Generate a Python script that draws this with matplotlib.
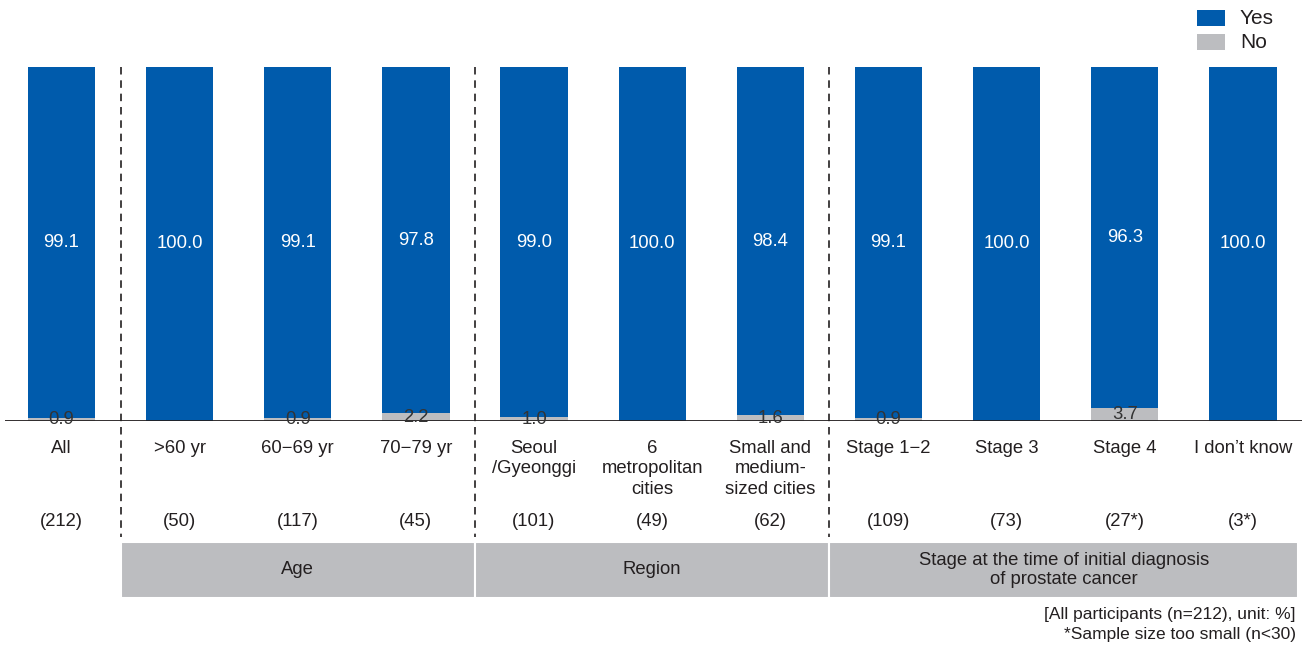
import matplotlib
matplotlib.use("Agg")
import matplotlib.pyplot as plt
from matplotlib.patches import Rectangle
from matplotlib.lines import Line2D
from matplotlib.transforms import blended_transform_factory

plt.rcParams['font.family'] = ['Liberation Sans', 'DejaVu Sans']

categories = ["All", ">60 yr", "60\u221269 yr", "70\u221279 yr", "Seoul\n/Gyeonggi",
              "6\nmetropolitan\ncities", "Small and\nmedium-\nsized cities",
              "Stage 1\u22122", "Stage 3", "Stage 4", "I don\u02bct know"]
counts = ["(212)", "(50)", "(117)", "(45)", "(101)", "(49)", "(62)",
          "(109)", "(73)", "(27*)", "(3*)"]
yes = [99.1, 100.0, 99.1, 97.8, 99.0, 100.0, 98.4, 99.1, 100.0, 96.3, 100.0]
no = [0.9, 0.0, 0.9, 2.2, 1.0, 0.0, 1.6, 0.9, 0.0, 3.7, 0.0]
groups = [("Age", 0.5, 3.5), ("Region", 3.5, 6.5),
          ("Stage at the time of initial diagnosis\nof prostate cancer", 6.5, 10.47)]
separators = [0.5, 3.5, 6.5]

BLUE = "#005BAC"
GREY = "#BCBDC0"
TXT = "#231F20"
FS = 13.3

W, H = 1305, 645
fig = plt.figure(figsize=(W / 100, H / 100), dpi=100)

def fy(py):
    return 1 - py / H

ax = fig.add_axes([5 / W, fy(421), (1302 - 5) / W, fy(67) - fy(421)])
x = list(range(len(categories)))
ax.bar(x, no, width=0.57, color=GREY)
ax.bar(x, yes, width=0.57, bottom=no, color=BLUE)
ax.set_xlim(-0.478, 10.5)
ax.set_ylim(0, 100)
ax.axis('off')
ax.axhline(0, color=TXT, lw=1.3, zorder=5)

for i in x:
    ax.text(i, no[i] + yes[i] / 2, f"{yes[i]:.1f}", color="white", ha="center",
            va="center", fontsize=FS)
    if no[i] > 0:
        ax.text(i, no[i] / 2, f"{no[i]:.1f}", color="#333333", ha="center",
                va="center", fontsize=FS, zorder=6)

bt = blended_transform_factory(ax.transData, fig.transFigure)

for i in x:
    ax.text(i, fy(440), categories[i], transform=bt, ha="center", va="top",
            fontsize=FS, color=TXT, linespacing=1.25)
    ax.text(i, fy(521), counts[i], transform=bt, ha="center", va="center",
            fontsize=FS, color=TXT)

for s in separators:
    ax.add_line(Line2D([s, s], [fy(67), fy(537)], transform=bt, color=TXT,
                       lw=1.2, ls=(0, (4.5, 3.5)), clip_on=False))

for label, a, b in groups:
    ax.add_patch(Rectangle((a, fy(598)), b - a, fy(542) - fy(598), transform=bt,
                           facecolor=GREY, edgecolor="white", lw=1.5, clip_on=False))
    ax.text((a + b) / 2, fy(570), label, transform=bt, ha="center", va="center",
            fontsize=FS, color=TXT, linespacing=1.15)

fig.text(1296 / W, fy(615), "[All participants (n=212), unit: %]", ha="right",
         va="center", fontsize=12.5, color=TXT)
fig.text(1296 / W, fy(634), "*Sample size too small (n<30)", ha="right",
         va="center", fontsize=12.5, color=TXT)

# legend
for lab, col, top in [("Yes", BLUE, 10), ("No", GREY, 34)]:
    fig.patches.append(Rectangle((1197 / W, fy(top + 15.5)), 28 / W, 15.5 / H,
                                 transform=fig.transFigure, facecolor=col,
                                 edgecolor="none"))
    fig.text(1240 / W, fy(top + 9), lab, ha="left", va="center", fontsize=15,
             color=TXT)

fig.savefig("out.png", dpi=100)
